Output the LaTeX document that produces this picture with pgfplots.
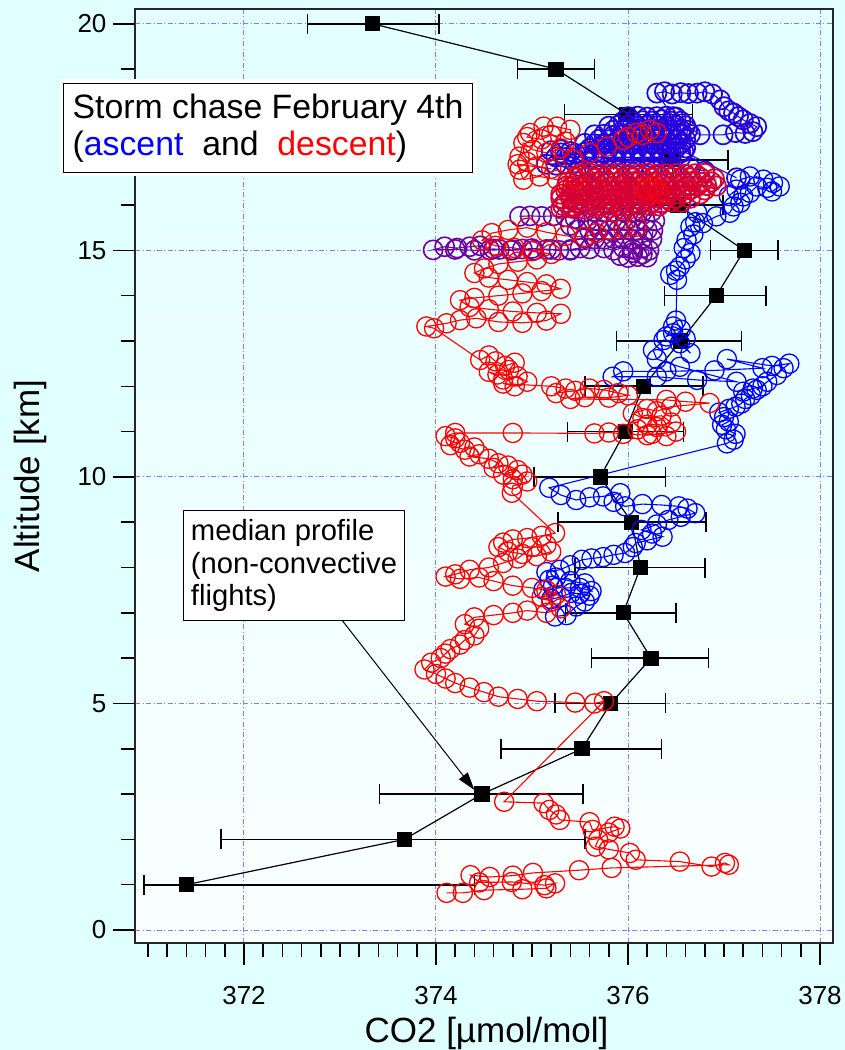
\documentclass[border=0pt]{standalone}
\usepackage{fontspec}
\setmainfont{Liberation Sans}
\usepackage{pgfplots}
\pgfplotsset{compat=1.18}
\usetikzlibrary{arrows.meta}
\definecolor{bgcyan}{RGB}{224,255,255}
\definecolor{ascblue}{RGB}{0,0,255}
\definecolor{indig}{RGB}{40,0,222}
\definecolor{purp}{RGB}{110,0,160}
\definecolor{crim}{RGB}{215,0,50}
\definecolor{desred}{RGB}{255,0,0}
\definecolor{gridblue}{RGB}{125,125,255}
\pgfplotsset{circ/.style={mark=o, mark size=4.8pt, line width=0.55pt, mark options={line width=0.65pt}}}

\begin{document}
\begin{tikzpicture}
\fill[bgcyan] (-67.75pt,-53.65pt) rectangle (354.75pt,471.35pt);
\path[use as bounding box] (-67.75pt,-53.65pt) rectangle (354.75pt,471.35pt);
\begin{axis}[
    at={(0pt,0pt)}, anchor=south west,
    scale only axis, width=348.5pt, height=466.7pt,
    xmin=370.87, xmax=378.13, ymin=-0.28, ymax=20.32,
    clip=false,
    axis background/.style={top color=cyan!11, bottom color=cyan!2},
    axis line style={line width=1pt, black!85},
    xtick={372,374,376,378}, ytick={0,5,10,15,20},
    minor xtick={371,371.2,...,377.9},
    minor ytick={0,1,...,20},
    tick pos=left, tick align=outside,
    major tick length=11pt, minor tick length=7pt,
    tick style={line width=0.75pt, black},
    grid=major,
    major grid style={gridblue, line width=0.5pt, dash pattern=on 2.5pt off 1.2pt on 0.5pt off 1.2pt},
    /pgf/number format/assume math mode=true,
    tick label style={font=\fontsize{13}{15}\selectfont},
    xticklabel style={yshift=-7.5pt},
    label style={font=\fontsize{17.5}{20}\selectfont},
    xlabel={CO2 [µmol/mol]}, ylabel={Altitude [km]},
    xlabel style={at={(axis description cs:0.5036,-0.0967)}, anchor=center},
    ylabel style={at={(axis description cs:-0.1514,0.5)}, anchor=center},
]
% median profile (non-convective flights)
\addplot[black, line width=0.6pt, mark=square*, mark size=3.5pt,
  error bars/.cd, x dir=both, x explicit, error mark=|,
  error bar style={line width=0.8pt}, error mark options={mark size=5pt, line width=0.8pt, black}]
coordinates {
(371.40,1) += (3.00,0) -= (0.44,0)
(373.67,2) += (1.88,0) -= (1.91,0)
(374.48,3) += (1.05,0) -= (1.07,0)
(375.52,4) += (0.83,0) -= (0.84,0)
(375.82,5) += (0.57,0) -= (0.58,0)
(376.24,6) += (0.60,0) -= (0.62,0)
(375.95,7) += (0.55,0) -= (0.60,0)
(376.13,8) += (0.67,0) -= (0.68,0)
(376.04,9) += (0.77,0) -= (0.77,0)
(375.71,10) += (0.68,0) -= (0.69,0)
(375.97,11) += (0.61,0) -= (0.60,0)
(376.16,12) += (0.62,0) -= (0.61,0)
(376.55,13) += (0.63,0) -= (0.67,0)
(376.92,14) += (0.52,0) -= (0.54,0)
(377.21,15) += (0.35,0) -= (0.35,0)
(376.52,16) += (0.47,0) -= (0.50,0)
(376.45,17) += (0.59,0) -= (0.60,0)
(375.99,18) += (0.68,0) -= (0.65,0)
(375.25,19) += (0.40,0) -= (0.40,0)
(373.34,20) += (0.69,0) -= (0.68,0)
};
% ascent
\addplot[ascblue, circ] coordinates {
(375.24,6.92) (375.36,6.95) (375.46,7.14) (375.55,7.25) (375.60,7.38) (375.50,7.42) (375.41,7.44) (375.30,7.35)
(375.20,7.30) (375.12,7.51) (375.22,7.60) (375.35,7.55) (375.50,7.55) (375.62,7.48) (375.55,7.65) (375.40,7.70)
(375.25,7.78) (375.18,7.73) (375.15,7.90) (375.29,7.95) (375.40,8.05) (375.52,8.17) (375.62,8.20) (375.74,8.23)
(375.85,8.28) (375.97,8.32) (376.05,8.45) (376.08,8.54) (376.20,8.60) (376.36,8.68) (376.25,8.75) (376.14,8.83)
(376.30,8.95) (376.42,9.05) (376.55,9.12) (376.70,9.20) (376.62,9.30) (376.53,9.35) (376.35,9.38) (376.15,9.40)
(375.97,9.35) (375.85,9.45) (375.92,9.64) (375.74,9.57) (375.60,9.55) (375.46,9.49) (375.30,9.60) (375.18,9.76)
(377.03,10.74) (377.10,10.82) (377.12,10.95) (377.02,11.05) (376.98,11.15) (377.05,11.22) (377.00,11.32) (376.95,11.42)
(377.05,11.50) (377.12,11.55) (377.18,11.62) (377.22,11.72) (377.28,11.80) (377.20,11.88) (377.30,11.95) (377.40,12.00)
(377.34,11.92) (377.45,12.10) (377.55,12.25) (377.62,12.40) (377.68,12.50) (377.50,12.45) (377.03,12.60) (377.40,12.40)
(376.90,12.35) (376.40,12.33) (375.95,12.33) (375.84,12.21) (376.30,12.21) (376.72,12.14) (377.13,12.10) (376.54,12.43)
(376.30,12.60) (376.26,12.80) (376.37,13.02) (376.54,12.95) (376.65,12.73) (376.47,13.17) (376.40,13.10) (376.47,13.32)
(376.55,13.25) (376.60,13.05) (376.50,13.45) (376.51,14.35) (376.44,14.46) (376.50,14.55) (376.54,14.64) (376.60,14.80)
(376.65,14.94) (376.58,15.05) (376.61,15.23) (376.68,15.35) (376.65,15.52) (376.70,15.62) (376.72,15.83) (376.78,15.60)
(376.92,15.75) (377.06,15.83) (377.10,15.97) (377.17,16.05) (377.20,16.19) (377.27,16.27) (377.34,16.41) (377.45,16.38)
(377.51,16.49) (377.58,16.41) (377.50,16.30) (377.41,16.56) (377.27,16.63) (377.17,16.56) (377.13,16.34) (377.05,16.20)
};
\addplot[indig, circ, mark options={line width=0.85pt}] coordinates {
(377.13,16.60) (376.58,17.18) (376.52,17.45) (376.47,17.95) (376.30,18.47) (376.38,18.50) (376.46,18.45) (376.55,18.48)
(376.63,18.46) (376.72,18.47) (376.80,18.50) (376.88,18.45) (376.96,18.32) (377.00,18.17) (377.05,18.08) (377.10,18.03)
(377.15,17.95) (377.20,17.88) (377.27,17.80) (377.34,17.73) (377.30,17.62) (377.22,17.58) (377.12,17.60) (376.99,17.55)
(376.75,17.55) (376.55,17.85) (376.45,17.85) (376.35,17.88) (376.25,17.85) (376.15,17.86) (376.05,17.84) (375.95,17.85)
(376.00,17.95) (376.10,17.96) (376.20,17.94) (376.30,17.95) (376.40,17.96) (376.50,17.94)
(376.60,17.75) (376.50,17.76) (376.40,17.74) (376.30,17.75) (376.20,17.76) (376.10,17.74) (376.00,17.75) (375.90,17.76) (375.80,17.74)
(375.85,17.65) (375.95,17.66) (376.05,17.64) (376.15,17.65) (376.25,17.66) (376.35,17.64) (376.45,17.65) (376.55,17.66)
(376.62,17.65) (376.60,17.45) (376.50,17.46) (376.40,17.44) (376.30,17.45) (376.20,17.46) (376.10,17.44) (376.00,17.45)
(375.90,17.46) (375.80,17.44) (375.70,17.45)
(375.65,17.55) (375.75,17.56) (375.85,17.54) (375.95,17.55) (376.05,17.56) (376.15,17.54) (376.25,17.55) (376.35,17.56) (376.45,17.54) (376.55,17.55) (376.65,17.56)
(376.55,17.35) (376.45,17.36) (376.35,17.34) (376.25,17.35) (376.15,17.36) (376.05,17.34) (375.95,17.35) (375.85,17.36) (375.75,17.34) (375.65,17.35) (375.55,17.36)
(375.60,17.25) (375.70,17.26) (375.80,17.24) (375.90,17.25) (376.00,17.26)
(376.10,17.24) (376.20,17.25) (376.30,17.26) (376.40,17.24) (376.50,17.25) (376.60,17.26)
(376.55,17.15) (376.45,17.16) (376.35,17.14) (376.25,17.15) (376.15,17.16) (376.05,17.14) (375.95,17.15) (375.85,17.16) (375.75,17.14) (375.65,17.15) (375.55,17.16) (375.45,17.14) (375.30,17.15)
(375.25,17.06) (375.35,17.05) (375.45,17.04) (375.55,17.06) (375.65,17.05) (375.75,17.04) (375.85,17.06) (375.95,17.05) (376.05,17.04) (376.15,17.06) (376.25,17.05) (376.35,17.04) (376.45,17.06) (376.55,17.05)
(375.15,16.90) (375.25,16.88) (375.35,16.90) (375.45,16.92)
(375.20,17.20) (375.30,17.22) (375.40,17.18) (375.50,16.85) (375.65,16.80) (375.85,16.82) (376.05,16.80) (376.25,16.82)
(376.45,16.80) (376.65,16.82) (376.80,16.75)
};
\addplot[purp, circ, mark options={line width=0.8pt}] coordinates {
(374.87,15.75) (374.98,15.76) (375.10,15.75) (375.22,15.76) (375.35,15.74) (375.45,15.70) (375.40,15.55) (375.47,15.45)
(375.55,15.85) (375.65,15.86) (375.75,15.84) (375.85,15.85) (375.95,15.86) (376.05,15.84) (376.15,15.85) (376.25,15.86)
(376.28,15.65) (376.18,15.66) (376.08,15.64) (375.98,15.65) (375.88,15.66) (375.78,15.64) (375.68,15.65) (375.58,15.66)
(375.60,15.45) (375.70,15.46) (375.80,15.44) (375.90,15.45) (376.00,15.46) (376.10,15.44) (376.20,15.45) (376.26,15.44)
(376.25,15.25) (376.15,15.26) (376.05,15.24) (375.95,15.25) (375.85,15.26) (375.75,15.24) (375.65,15.25) (375.55,15.26)
(375.50,15.05) (375.40,15.02) (375.28,15.00) (375.15,15.02) (375.02,15.00) (374.90,15.03) (374.78,15.00) (374.66,15.02)
(374.56,15.01) (374.46,15.10) (374.35,15.08) (374.22,15.05) (374.09,15.08) (373.97,15.01) (374.20,15.02) (374.40,15.00)
(374.60,15.03) (374.80,15.01) (375.00,15.04) (375.20,15.02) (375.40,15.00) (375.60,15.03) (375.75,15.05) (375.85,15.00)
(375.95,15.06) (376.05,15.02) (376.15,15.05) (376.22,15.00) (376.20,14.85) (376.10,14.86) (376.00,14.84) (375.92,14.88)
(376.05,14.95) (376.15,14.92)
};
\addplot[crim, circ, mark options={line width=0.9pt}] coordinates {
(375.50,16.69) (375.60,16.70) (375.70,16.68) (375.80,16.69) (375.90,16.70) (376.00,16.68) (376.10,16.69) (376.20,16.70) (376.30,16.68) (376.40,16.69) (376.50,16.70) (376.60,16.68) (376.70,16.69) (376.80,16.70)
(376.90,16.58) (376.75,16.61) (376.65,16.60) (376.55,16.59) (376.45,16.61) (376.35,16.60) (376.25,16.59) (376.15,16.61)
(376.05,16.60) (375.95,16.59) (375.85,16.61) (375.75,16.60) (375.65,16.59) (375.55,16.61) (375.45,16.60)
(375.37,16.51) (375.47,16.52) (375.57,16.50) (375.67,16.51) (375.77,16.52) (375.87,16.50) (375.97,16.51) (376.07,16.52) (376.17,16.50) (376.27,16.51) (376.37,16.52) (376.47,16.50) (376.57,16.51) (376.67,16.52) (376.77,16.50) (376.87,16.51)
(376.92,16.42) (376.82,16.43) (376.72,16.41) (376.62,16.42) (376.52,16.43) (376.42,16.41) (376.32,16.42) (376.22,16.43)
(376.12,16.41) (376.02,16.42) (375.92,16.43) (375.82,16.41) (375.72,16.42) (375.62,16.43) (375.52,16.41) (375.42,16.42)
(375.36,16.42) (375.35,16.33) (375.45,16.34) (375.55,16.32) (375.65,16.33) (375.75,16.34) (375.85,16.32) (375.95,16.33) (376.05,16.34) (376.15,16.32) (376.25,16.33) (376.35,16.34) (376.45,16.32) (376.55,16.33) (376.65,16.34) (376.80,16.33)
(376.75,16.24) (376.60,16.25) (376.50,16.24) (376.40,16.23) (376.30,16.25) (376.20,16.24) (376.10,16.23)
(376.00,16.25) (375.90,16.24) (375.80,16.23) (375.70,16.25) (375.60,16.24) (375.50,16.23) (375.40,16.25) (375.30,16.24)
(375.30,16.15) (375.40,16.16) (375.50,16.14) (375.60,16.15) (375.70,16.16) (375.80,16.14) (375.90,16.15) (376.00,16.16) (376.10,16.14) (376.20,16.15) (376.30,16.16) (376.40,16.14) (376.50,16.15) (376.65,16.15)
(376.55,16.06) (376.45,16.07) (376.35,16.05) (376.25,16.06) (376.15,16.07) (376.05,16.05) (375.95,16.06) (375.85,16.07)
(375.75,16.05) (375.65,16.06) (375.55,16.07) (375.45,16.05) (375.35,16.06) (375.32,15.99) (375.42,15.98) (375.52,16.00) (375.62,15.99) (375.72,15.98) (375.82,16.00) (375.92,15.99) (376.02,15.98) (376.12,16.00) (376.22,15.99) (376.32,15.98)
(375.95,15.91) (375.80,15.93) (375.68,15.92) (375.55,15.91) (375.42,15.93) (375.30,15.92)
};
% descent
\addplot[desred, circ] coordinates {
(376.00,17.50) (376.15,17.55) (376.30,17.59) (376.23,17.66) (376.09,17.59) (375.95,17.44) (375.78,17.29) (375.60,17.15)
(375.43,17.00) (375.40,17.66) (375.26,17.73) (375.12,17.73) (374.98,17.59) (374.95,17.50) (375.10,17.45) (375.20,17.55)
(375.35,17.40) (375.30,17.25) (375.15,17.15) (375.01,17.22) (374.91,17.37) (374.87,17.07) (374.95,16.95) (375.05,16.85)
(375.20,16.80) (374.85,16.90) (374.87,16.78) (374.91,16.56) (375.08,16.63) (375.26,16.56) (375.45,16.60)
(376.26,16.41) (376.20,16.33) (376.32,16.28)
(376.09,15.52) (375.95,15.49) (375.81,15.45) (375.67,15.38) (375.55,15.30) (375.35,15.32) (375.15,15.40) (374.95,15.50)
(374.75,15.45) (374.58,15.38) (374.48,15.22) (374.62,15.10) (374.82,15.05) (375.00,14.98) (375.20,14.92) (375.05,14.80)
(374.85,14.75) (374.65,14.70) (374.50,14.60) (374.40,14.50) (374.55,14.40) (374.75,14.35) (374.95,14.30) (375.15,14.25)
(375.30,14.15) (375.10,14.10) (374.90,14.05) (374.65,14.00) (374.40,13.95) (374.25,13.90) (374.35,13.75) (374.55,13.70)
(374.80,13.65) (375.05,13.62) (375.30,13.60) (375.15,13.45) (374.90,13.40) (374.65,13.42) (374.42,13.50) (374.25,13.46)
(374.11,13.39) (373.90,13.32) (373.98,13.28)
(374.46,12.58) (374.55,12.68) (374.62,12.55) (374.72,12.45) (374.82,12.52) (374.76,12.36) (374.64,12.26) (374.55,12.32)
(374.70,12.15) (374.85,12.22) (374.95,12.10) (374.82,12.00) (374.70,12.06)
(375.20,12.00) (375.35,11.95) (375.25,11.85) (375.45,11.90) (375.60,11.95) (375.75,11.92) (375.90,11.85) (376.00,11.80)
(375.80,11.75) (375.55,11.76) (375.40,11.72) (376.40,11.70) (376.60,11.66) (376.85,11.63)
(376.45,11.55) (376.30,11.45) (376.20,11.50) (376.05,11.40) (376.15,11.30) (376.35,11.35) (376.45,11.20) (376.30,11.10)
(376.20,11.15) (376.10,11.05) (376.25,10.95) (376.40,10.90) (376.50,11.00)
(376.20,10.92) (375.95,10.95) (375.80,10.98) (375.65,10.96) (374.80,10.97) (374.20,10.97) (374.10,10.90)
(374.20,10.85) (374.25,10.75) (374.15,10.70) (374.30,10.60) (374.40,10.65) (374.45,10.50) (374.35,10.45) (374.55,10.40)
(374.65,10.30) (374.60,10.20) (374.75,10.25) (374.85,10.15) (374.70,10.05) (374.80,9.95) (374.90,10.05) (374.95,9.90)
(374.80,9.80) (374.79,9.65)
(375.24,8.76) (375.10,8.70) (374.95,8.65) (374.80,8.62) (374.70,8.55) (374.65,8.45) (374.75,8.35) (374.90,8.30)
(375.05,8.25) (375.20,8.35) (375.15,8.50) (375.00,8.45) (374.85,8.20) (374.70,8.10) (374.55,8.00) (374.35,7.95)
(374.20,7.85) (374.10,7.80) (374.25,7.75) (374.45,7.78) (374.60,7.70) (374.80,7.60) (375.00,7.55) (375.15,7.50)
(375.25,7.40) (375.10,7.35) (375.20,7.25) (375.30,7.10) (375.15,7.00)
(374.95,7.05) (374.80,7.00) (374.60,6.95) (374.40,6.90) (374.30,6.75) (374.45,6.65) (374.40,6.50) (374.30,6.40)
(374.25,6.30) (374.15,6.20) (374.10,6.10) (374.05,6.00) (373.95,5.90) (373.88,5.75) (374.00,5.65) (374.10,5.55)
(374.20,5.45) (374.35,5.35) (374.50,5.25) (374.65,5.15) (374.85,5.10) (375.05,5.05) (375.45,5.02) (375.65,5.00)
(375.75,5.05)
(374.71,2.83) (375.12,2.80) (375.18,2.65) (375.25,2.55) (375.29,2.43) (375.60,2.38) (375.63,2.21) (375.86,2.28)
(375.92,2.24) (375.80,2.15) (375.69,1.99) (375.66,1.84) (375.80,1.78) (376.02,1.70) (376.08,1.55) (376.54,1.51)
(376.87,1.40) (377.01,1.48) (377.05,1.44)
(375.83,1.37) (375.49,1.32) (375.01,1.26) (374.80,1.20) (374.56,1.17) (374.36,1.21) (374.45,1.05) (374.79,1.06)
(375.13,0.99) (375.24,1.03) (375.15,0.92) (374.90,0.90) (374.50,0.88) (374.28,0.82) (374.11,0.82)
};
% annotations
\node[draw=black, line width=0.5pt, fill=white, preaction={draw=white, line width=4pt},
  anchor=north west, align=left, minimum width=204.5pt, minimum height=44.5pt,
  inner xsep=3.5pt, inner ysep=5pt,
  font=\fontsize{16.9}{18.5}\selectfont]
  at (axis cs:370.115,18.698)
  {Storm chase February 4th\\(\textcolor{ascblue}{ascent}\ \ and\ \ \textcolor{desred}{descent})};
\node[draw=black, line width=0.5pt, fill=white,
  anchor=north west, align=left, minimum width=110.5pt, minimum height=55pt,
  inner xsep=3.5pt, inner ysep=4.5pt,
  font=\fontsize{14.6}{16.25}\selectfont]
  at (axis cs:371.365,9.272)
  {median profile\\(non-convective\\flights)};
\draw[-{Triangle[length=9pt,width=5.5pt]}, line width=0.5pt, black]
  (axis cs:373.02,6.84) -- (axis cs:374.40,3.09);
\end{axis}
\end{tikzpicture}
\end{document}
